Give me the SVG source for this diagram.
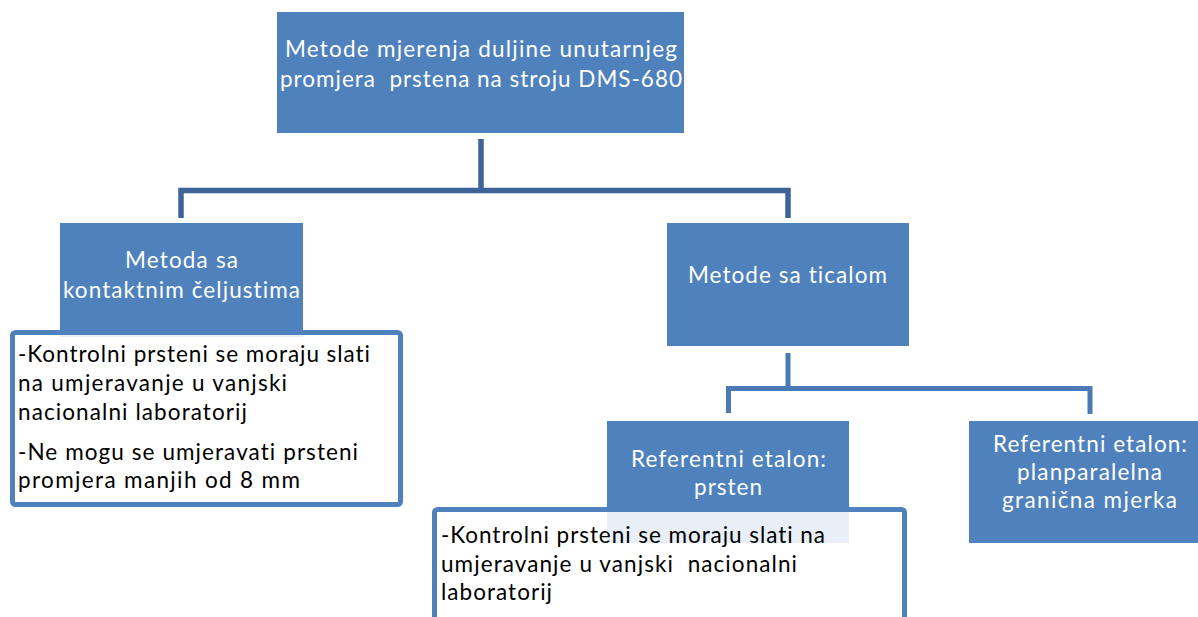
<svg xmlns="http://www.w3.org/2000/svg" width="1198" height="617" viewBox="0 0 1198 617">
<style>
.box{fill:#4F81BD;}
.note{fill:#FFFFFF;fill-opacity:0.87;stroke:#4F81BD;stroke-width:5;}
.wt{font-family:Lato,"Liberation Sans",sans-serif;font-size:22.5px;fill:#FFFFFF;font-variant-ligatures:none;}
.bt{font-family:Lato,"Liberation Sans",sans-serif;font-size:22.5px;fill:#000000;font-variant-ligatures:none;}
.c1{fill:none;stroke:#3E6497;stroke-width:5.5;}
.c2{fill:none;stroke:#4A7AB6;stroke-width:5;}
</style>
<rect width="1198" height="617" fill="#FFFFFF"/>
<g id="connectors">
<path class="c1" d="M481,139 V190.5"/>
<path class="c1" d="M181,218 V190.5 H788 V218"/>
<path class="c2" d="M788,353 V388.5"/>
<path class="c2" d="M728.5,413 V388.5 H1090 V414"/>
</g>
<g id="root">
<rect class="box" x="277" y="12" width="407" height="121"/>
<text class="wt" xml:space="preserve"><tspan x="285" y="57" textLength="392" lengthAdjust="spacing">Metode mjerenja duljine unutarnjeg</tspan><tspan x="280" y="87" textLength="402" lengthAdjust="spacing">promjera  prstena na stroju DMS-680</tspan></text>
</g>
<g id="metoda-celjusti">
<rect class="box" x="60" y="223" width="243" height="114"/>
<text class="wt"><tspan x="125" y="268" textLength="113" lengthAdjust="spacing">Metoda sa</tspan><tspan x="63" y="298" textLength="237" lengthAdjust="spacing">kontaktnim čeljustima</tspan></text>
</g>
<g id="note-celjusti">
<rect class="note" x="12.5" y="332.5" width="388" height="172" rx="3"/>
<text class="bt"><tspan x="18" y="362" textLength="352" lengthAdjust="spacing">-Kontrolni prsteni se moraju slati</tspan><tspan x="18" y="391" textLength="269" lengthAdjust="spacing">na umjeravanje u vanjski</tspan><tspan x="18" y="420" textLength="229" lengthAdjust="spacing">nacionalni laboratorij</tspan><tspan x="18" y="460" textLength="340" lengthAdjust="spacing">-Ne mogu se umjeravati prsteni</tspan><tspan x="18" y="488" textLength="282" lengthAdjust="spacing">promjera manjih od 8 mm</tspan></text>
</g>
<g id="metode-ticalo">
<rect class="box" x="667" y="223" width="242" height="123"/>
<text class="wt"><tspan x="688" y="283" textLength="199" lengthAdjust="spacing">Metode sa ticalom</tspan></text>
</g>
<g id="etalon-prsten">
<rect class="box" x="607" y="421" width="242" height="122"/>
<text class="wt"><tspan x="631" y="467" textLength="195" lengthAdjust="spacing">Referentni etalon:</tspan><tspan x="694" y="495" textLength="68" lengthAdjust="spacing">prsten</tspan></text>
</g>
<g id="note-prsten">
<rect class="note" x="434.5" y="509.5" width="470" height="130" rx="3"/>
<text class="bt" xml:space="preserve"><tspan x="441" y="543" textLength="384" lengthAdjust="spacing">-Kontrolni prsteni se moraju slati na</tspan><tspan x="441" y="572" textLength="356" lengthAdjust="spacing">umjeravanje u vanjski  nacionalni</tspan><tspan x="441" y="600" textLength="111" lengthAdjust="spacing">laboratorij</tspan></text>
</g>
<g id="etalon-mjerka">
<rect class="box" x="969" y="421" width="229" height="122"/>
<text class="wt"><tspan x="993" y="452" textLength="194" lengthAdjust="spacing">Referentni etalon:</tspan><tspan x="1017" y="480" textLength="145" lengthAdjust="spacing">planparalelna</tspan><tspan x="1002" y="508" textLength="175" lengthAdjust="spacing">granična mjerka</tspan></text>
</g>
</svg>
